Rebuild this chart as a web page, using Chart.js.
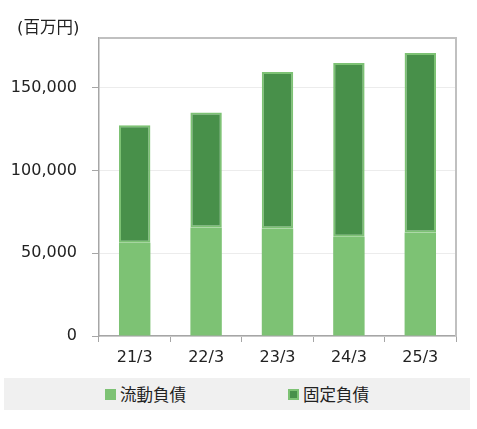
<!DOCTYPE html>
<html>
<head>
<meta charset="utf-8">
<script src="https://cdn.jsdelivr.net/npm/chart.js@4.4.1/dist/chart.umd.min.js"></script>
<style>
  body { margin: 0; background: #fff; }
  #wrap { position: relative; width: 477px; height: 429px; }
  #box { position: absolute; left: 0; top: 0; width: 477px; height: 372px; }
  #legend {
    position: absolute; left: 4px; top: 378px; width: 466px; height: 32px;
    background: #f0f0f0; display: flex; justify-content: center; align-items: center; gap: 102px;
    font-family: 'Noto Sans CJK JP', sans-serif; font-size: 16.5px; color: #222;
  }
  #legend span.item { display: flex; align-items: center; }
  #legend span.sw { display: inline-block; width: 11px; height: 11px; margin-right: 4px; box-sizing: border-box; }
</style>
</head>
<body>
<div id="wrap">
  <div id="box"><canvas id="c"></canvas></div>
  <div id="legend"></div>
</div>
<script>
// 決算期
const labels = ['21/3', '22/3', '23/3', '24/3', '25/3'];
// 流動負債 (百万円)
const currentDebt = [56400, 65500, 64900, 60000, 62500];
// 固定負債 (百万円)
const fixedDebt = [70900, 69500, 94500, 104900, 108400];
const seriesNames = ['流動負債', '固定負債'];
const unitText = '(百万円)';
// 縦軸の目盛り
const yTicks = [0, 50000, 100000, 150000];
const yMax = 180000;

const lightGreen = '#7dc274';
const darkGreen = '#48904a';
const axisGray = '#a6a6a6';
const numFont = "'DejaVu Sans', 'Noto Sans CJK JP', sans-serif";

// 上と右の枠線、単位
const framePlugin = {
  id: 'frame',
  afterDraw(chart) {
    const a = chart.chartArea, ctx = chart.ctx;
    ctx.save();
    ctx.strokeStyle = '#c0c0c0';
    ctx.lineWidth = 2;
    ctx.beginPath();
    ctx.moveTo(a.left, a.top);
    ctx.lineTo(a.right, a.top);
    ctx.lineTo(a.right, a.bottom);
    ctx.stroke();
    ctx.fillStyle = '#222';
    ctx.font = "16.5px " + numFont;
    ctx.textBaseline = 'middle';
    ctx.textAlign = 'left';
    ctx.fillText(unitText, 17, 28.5);
    ctx.restore();
  }
};

const chart = new Chart(document.getElementById('c'), {
  type: 'bar',
  data: {
    labels: labels,
    datasets: [{
      label: seriesNames[0],
      data: currentDebt,
      backgroundColor: lightGreen,
      borderWidth: 0,
      categoryPercentage: 1,
      barPercentage: 0.44
    }, {
      label: seriesNames[1],
      data: fixedDebt,
      backgroundColor: darkGreen,
      borderColor: lightGreen,
      borderWidth: 2,
      borderSkipped: false,
      categoryPercentage: 1,
      barPercentage: 0.44
    }]
  },
  options: {
    responsive: true,
    maintainAspectRatio: false,
    animation: false,
    layout: { padding: { left: 0, right: 21, top: 38, bottom: 0 } },
    plugins: { legend: { display: false }, tooltip: { enabled: false } },
    scales: {
      x: {
        stacked: true,
        afterFit: s => { s.height = 36; },
        grid: { drawOnChartArea: false, drawTicks: true, tickLength: 6, tickColor: axisGray, offset: true },
        border: { color: axisGray, width: 1.5 },
        ticks: { color: '#222', font: { family: numFont, size: 16 }, padding: 6, maxRotation: 0 }
      },
      y: {
        stacked: true,
        min: 0,
        max: yMax,
        afterFit: s => { s.width = 99; },
        afterBuildTicks: s => { s.ticks = yTicks.map(v => ({ value: v })); },
        grid: { color: '#ececec', tickLength: 7, tickColor: axisGray },
        border: { color: axisGray, width: 1.5 },
        ticks: {
          autoSkip: false,
          color: '#222',
          padding: 15,
          font: { family: numFont, size: 16 },
          callback: v => v.toLocaleString('en-US')
        }
      }
    }
  },
  plugins: [framePlugin]
});

// 凡例
const legend = document.getElementById('legend');
chart.data.datasets.forEach(ds => {
  const item = document.createElement('span');
  item.className = 'item';
  const sw = document.createElement('span');
  sw.className = 'sw';
  sw.style.background = ds.backgroundColor;
  if (ds.borderWidth) sw.style.border = '2px solid ' + ds.borderColor;
  item.appendChild(sw);
  item.appendChild(document.createTextNode(ds.label));
  legend.appendChild(item);
});
</script>
</body>
</html>
